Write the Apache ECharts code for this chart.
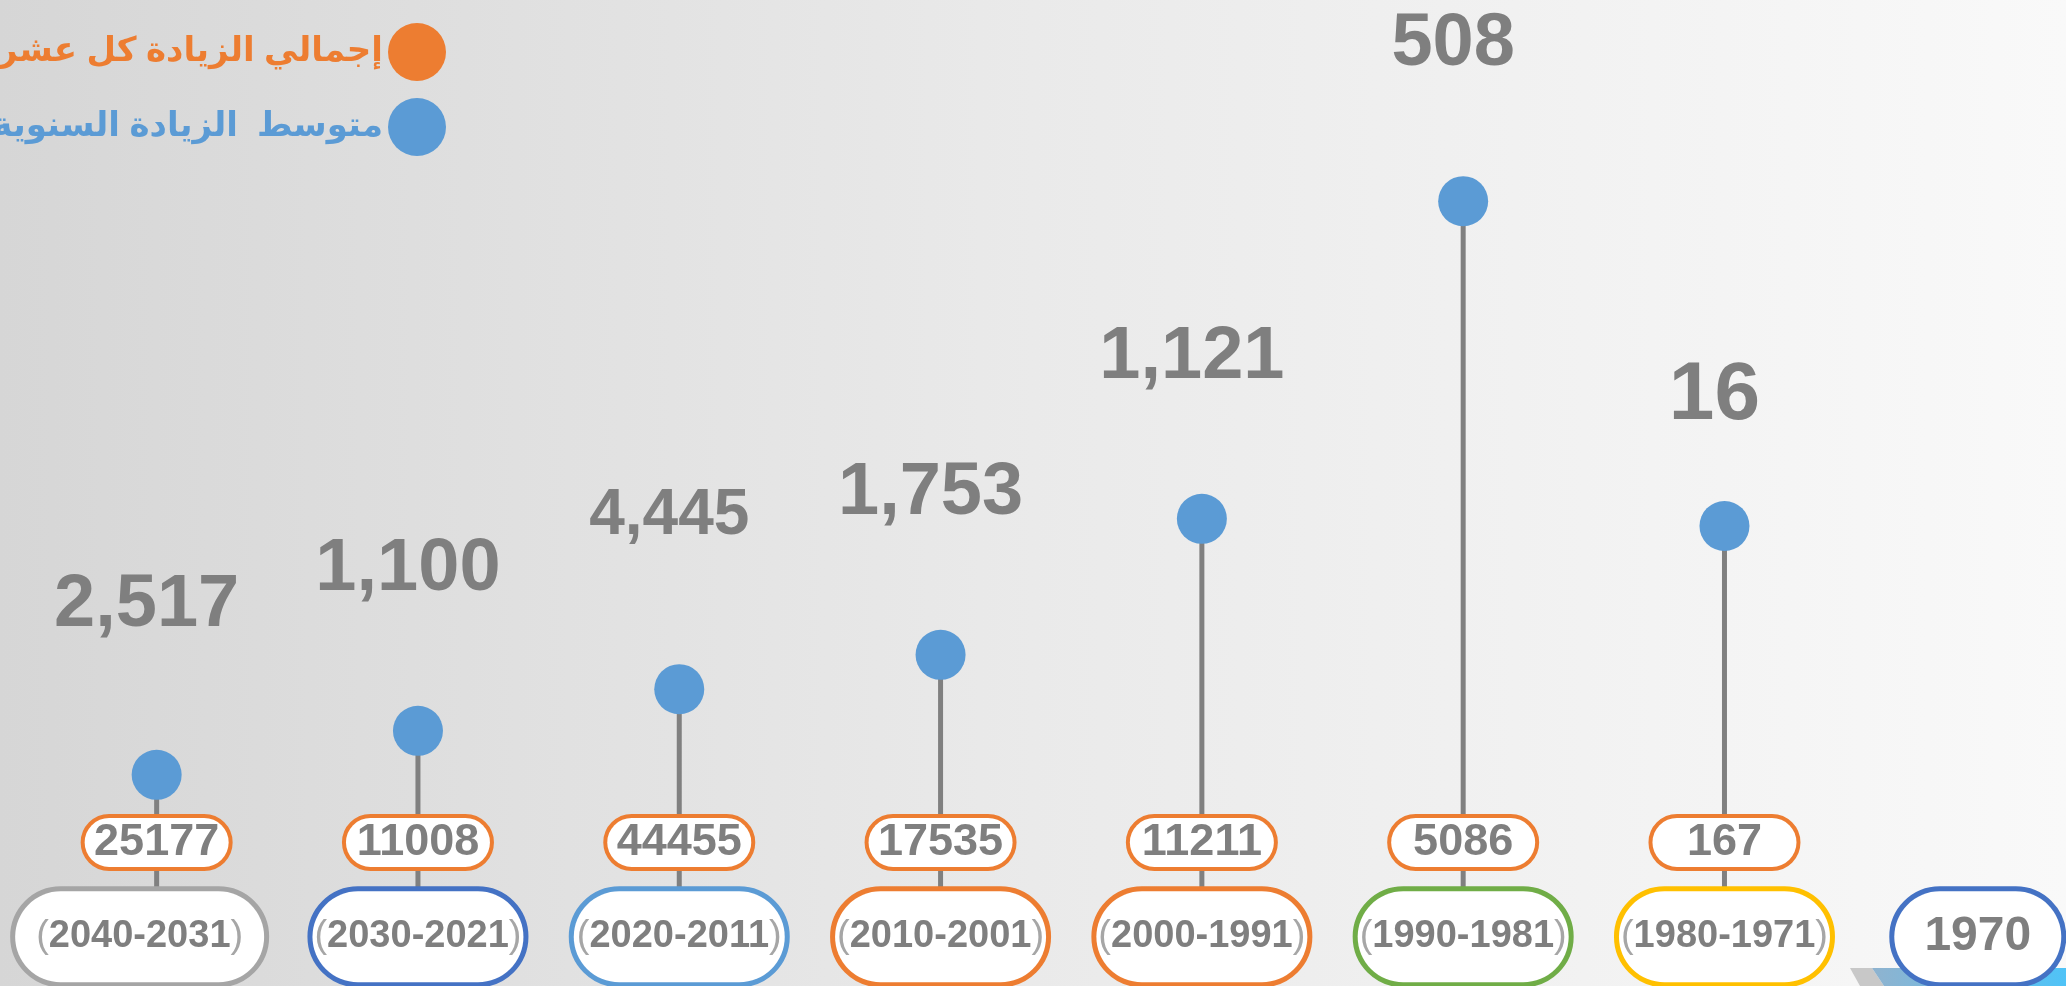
<!DOCTYPE html>
<html>
<head>
<meta charset="utf-8">
<script src="https://cdn.jsdelivr.net/npm/echarts@6/dist/echarts.min.js"></script>
<style>
html, body { margin: 0; padding: 0; }
#main { width: 2066px; height: 986px; }
</style>
</head>
<body>
<div id="main"></div>
<script>
var periods = ['(2040-2031)', '(2030-2021)', '(2020-2011)', '(2010-2001)', '(2000-1991)', '(1990-1981)', '(1980-1971)', '1970'];
var decadeTotals = [25177, 11008, 44455, 17535, 11211, 5086, 167, null];
var annualAverages = [2517, 1100, 4445, 1753, 1121, 508, 16, null];
// stem heights as drawn in the picture (they do not follow the values)
var stemHeights = [14.4, 19.9, 25.1, 29.4, 46.4, 86.1, 45.5, null];
var totalName = 'إجمالي الزيادة كل عشر سنوات';
var averageName = 'متوسط  الزيادة السنوية';

var chart = echarts.init(document.getElementById('main'));

var GREY = '#7f7f7f';
var SANS = "'Liberation Sans', Arial, 'DejaVu Sans', sans-serif";
var TOTAL_LEVEL = 5.94;
var PERIOD_LEVEL = -5.85;
var boxColors = ['#a5a5a5', '#4472c4', '#5b9bd5', '#ed7d31', '#ed7d31', '#70ad47', '#ffc000', '#4472c4'];

var stemData = [], avgData = [], totalData = [], periodData = [];
periods.forEach(function (p, i) {
    if (stemHeights[i] != null) {
        stemData.push([i, stemHeights[i]]);
        var lab = {};
        if (i === 0) { lab = { distance: 107 }; }
        if (i === 2) { lab = { fontSize: 64, lineHeight: 64, distance: 116 }; }
        if (i === 5) { lab = { distance: 95 }; }
        if (i === 6) { lab = { fontSize: 82, lineHeight: 82, distance: 64 }; }
        avgData.push({ value: [i, stemHeights[i]], label: lab });
    }
    if (decadeTotals[i] != null) {
        totalData.push([i, TOTAL_LEVEL]);
    }
    var outer = 216, off = 0;
    if (i === 0) { outer = 254; off = -17; }
    if (i === periods.length - 1) { outer = 172; off = -8; }
    periodData.push({
        value: [i, PERIOD_LEVEL],
        label: {
            borderColor: boxColors[i],
            width: outer - 5,
            offset: [off, 0]
        }
    });
});

var option = {
    animation: false,
    backgroundColor: new echarts.graphic.LinearGradient(0, 0, 1, 0, [
        { offset: 0, color: '#d6d6d6' },
        { offset: 0.5, color: '#eaeaea' },
        { offset: 1, color: '#f9f9f9' }
    ]),
    legend: {
        orient: 'vertical',
        align: 'right',
        right: 1615,
        top: 18,
        itemWidth: 58,
        itemHeight: 58,
        itemGap: 17,
        icon: 'circle',
        textStyle: { fontSize: 34, fontWeight: 'bold', fontFamily: SANS },
        data: [
            { name: totalName, textStyle: { color: '#ed7d31' } },
            { name: averageName, textStyle: { color: '#5b9bd5' } }
        ]
    },
    graphic: [{
        type: 'polygon',
        z: -1,
        shape: { points: [[1850, 968], [1872, 968], [1884, 986], [1860, 986]] },
        style: { fill: '#c8c8c8' }
    }, {
        type: 'polygon',
        z: -1,
        shape: { points: [[1872, 968], [2066, 968], [2066, 986], [1884, 986]] },
        style: {
            fill: new echarts.graphic.LinearGradient(0, 0, 1, 0, [
                { offset: 0, color: '#8fb3cf' },
                { offset: 1, color: '#4fc3f7' }
            ])
        }
    }],
    grid: { left: 26, right: 0, top: 90, height: 896 },
    xAxis: {
        type: 'value',
        min: -0.5,
        max: 7.307,
        show: false
    },
    yAxis: {
        type: 'value',
        min: -12,
        max: 100,
        show: false
    },
    series: [{
        name: 'stems',
        type: 'bar',
        data: stemData,
        barWidth: 5,
        silent: true,
        itemStyle: { color: '#808080' },
        z: 1
    }, {
        name: totalName,
        type: 'scatter',
        data: totalData,
        symbolSize: 0,
        itemStyle: { color: '#ed7d31', opacity: 1 },
        z: 3,
        label: {
            show: true,
            position: 'inside',
            formatter: function (p) { return String(decadeTotals[p.value[0]]); },
            color: GREY,
            fontSize: 45,
            fontWeight: 'bold',
            fontFamily: SANS,
            backgroundColor: '#ffffff',
            borderColor: '#ed7d31',
            borderWidth: 4,
            borderRadius: 25,
            width: 144,
            height: 49,
            lineHeight: 49,
            align: 'center',
            verticalAlign: 'middle'
        }
    }, {
        name: 'periods',
        type: 'scatter',
        data: periodData,
        symbolSize: 0,
        silent: true,
        itemStyle: { opacity: 1 },
        z: 3,
        label: {
            show: true,
            position: 'inside',
            formatter: function (p) {
                var s = periods[p.value[0]];
                if (s.charAt(0) === '(') {
                    return '{p|(}{t|' + s.slice(1, -1) + '}{p|)}';
                }
                return '{y|' + s + '}';
            },
            backgroundColor: '#ffffff',
            borderWidth: 5,
            borderRadius: 46,
            height: 91,
            align: 'center',
            verticalAlign: 'middle',
            rich: {
                t: { fontSize: 38, fontWeight: 'bold', color: GREY, fontFamily: SANS, lineHeight: 91 },
                p: { fontSize: 38, color: '#a6a6a6', fontFamily: SANS, lineHeight: 91 },
                y: { fontSize: 48, fontWeight: 'bold', color: GREY, fontFamily: SANS, lineHeight: 91 }
            }
        }
    }, {
        name: averageName,
        type: 'scatter',
        data: avgData,
        symbol: 'circle',
        symbolSize: 50,
        itemStyle: { color: '#5b9bd5', opacity: 1 },
        z: 4,
        label: {
            show: true,
            position: 'top',
            distance: 99,
            offset: [-10, 0],
            formatter: function (p) { return echarts.format.addCommas(annualAverages[p.value[0]]); },
            color: GREY,
            fontSize: 74,
            lineHeight: 74,
            fontWeight: 'bold',
            fontFamily: SANS
        }
    }]
};

chart.setOption(option);
</script>
</body>
</html>
